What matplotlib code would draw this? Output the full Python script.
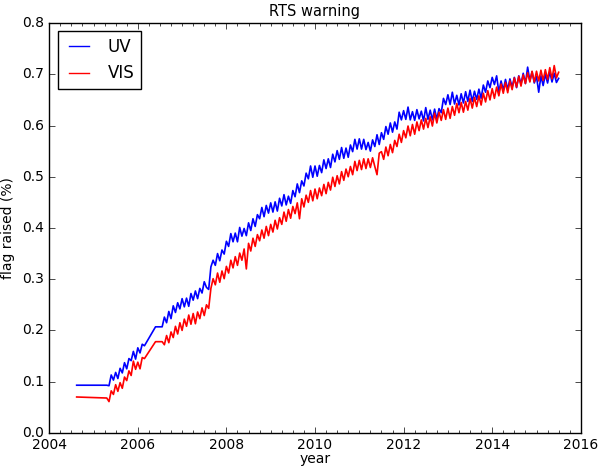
import numpy as np
import matplotlib
matplotlib.use('Agg')
import matplotlib.pyplot as plt
from matplotlib.ticker import MultipleLocator, FormatStrFormatter

# time sampling in decimal years
flat_start = 2004.62
seg1_start = 2005.30
gap_year = 2006.40
seg2_start = 2006.55
step = 0.05

# values
uv_flat = 0.093
vis_flat = 0.070
uv_gap = 0.207
vis_gap = 0.178

# 2005.30 - 2006.15
uv_seg1 = [0.093, 0.092, 0.113, 0.103, 0.118, 0.106, 0.126, 0.117, 0.137, 0.125,
           0.145, 0.141, 0.159, 0.144, 0.166, 0.156, 0.173, 0.170]
vis_seg1 = [0.068, 0.061, 0.082, 0.075, 0.094, 0.081, 0.098, 0.087, 0.109, 0.102,
            0.121, 0.112, 0.140, 0.124, 0.138, 0.125, 0.147, 0.145]

# 2006.55 - 2015.50
uv_seg2 = [
    0.207, 0.226, 0.215, 0.237, 0.223, 0.248, 0.235, 0.254, 0.242,
    # 2007
    0.262, 0.246, 0.263, 0.247, 0.272, 0.259, 0.277, 0.262, 0.282, 0.273,
    0.295, 0.284, 0.280, 0.324, 0.337, 0.327, 0.350, 0.336, 0.357, 0.349,
    # 2008
    0.374, 0.364, 0.389, 0.373, 0.390, 0.373, 0.401, 0.384, 0.399, 0.385,
    0.410, 0.395, 0.418, 0.403, 0.426, 0.418, 0.440, 0.422, 0.444, 0.429,
    # 2009
    0.449, 0.431, 0.451, 0.433, 0.458, 0.443, 0.465, 0.445, 0.462, 0.448,
    0.473, 0.461, 0.486, 0.469, 0.492, 0.482, 0.507, 0.496, 0.521, 0.499,
    # 2010
    0.521, 0.501, 0.522, 0.508, 0.533, 0.516, 0.535, 0.518, 0.544, 0.529,
    0.551, 0.534, 0.557, 0.536, 0.556, 0.538, 0.562, 0.549, 0.573, 0.554,
    # 2011
    0.574, 0.554, 0.573, 0.553, 0.567, 0.550, 0.572, 0.559, 0.582, 0.563,
    0.586, 0.573, 0.598, 0.583, 0.605, 0.587, 0.607, 0.593, 0.626, 0.611,
    # 2012
    0.629, 0.612, 0.636, 0.611, 0.627, 0.610, 0.631, 0.613, 0.628, 0.609,
    0.635, 0.612, 0.630, 0.611, 0.632, 0.612, 0.633, 0.625, 0.653, 0.641,
    # 2013
    0.660, 0.641, 0.665, 0.642, 0.659, 0.640, 0.662, 0.644, 0.666, 0.647,
    0.669, 0.647, 0.667, 0.651, 0.671, 0.653, 0.679, 0.665, 0.687, 0.674,
    # 2014
    0.694, 0.680, 0.697, 0.665, 0.687, 0.669, 0.690, 0.670, 0.691, 0.675,
    0.694, 0.674, 0.697, 0.681, 0.702, 0.682, 0.714, 0.687, 0.705, 0.683,
    # 2015
    0.696, 0.665, 0.697, 0.678, 0.700, 0.683, 0.705, 0.685, 0.702, 0.684, 0.692,
]
vis_seg2 = [
    0.178, 0.172, 0.190, 0.176, 0.197, 0.186, 0.208, 0.193, 0.215,
    # 2007
    0.200, 0.222, 0.208, 0.230, 0.212, 0.233, 0.213, 0.236, 0.223, 0.244,
    0.229, 0.250, 0.243, 0.282, 0.301, 0.289, 0.312, 0.294, 0.316, 0.301,
    # 2008
    0.325, 0.312, 0.337, 0.322, 0.344, 0.327, 0.351, 0.337, 0.359, 0.320,
    0.370, 0.355, 0.380, 0.364, 0.387, 0.375, 0.396, 0.380, 0.403, 0.385,
    # 2009
    0.407, 0.392, 0.415, 0.398, 0.420, 0.407, 0.431, 0.413, 0.436, 0.419,
    0.442, 0.428, 0.449, 0.418, 0.457, 0.441, 0.464, 0.450, 0.473, 0.453,
    # 2010
    0.476, 0.457, 0.478, 0.463, 0.485, 0.467, 0.489, 0.474, 0.499, 0.481,
    0.502, 0.486, 0.510, 0.493, 0.515, 0.500, 0.520, 0.504, 0.530, 0.512,
    # 2011
    0.532, 0.514, 0.535, 0.516, 0.535, 0.518, 0.537, 0.520, 0.504, 0.546,
    0.549, 0.534, 0.558, 0.541, 0.563, 0.547, 0.571, 0.559, 0.583, 0.567,
    # 2012
    0.590, 0.576, 0.599, 0.580, 0.602, 0.583, 0.607, 0.590, 0.611, 0.593,
    0.614, 0.596, 0.617, 0.599, 0.624, 0.605, 0.626, 0.610, 0.631, 0.612,
    # 2013
    0.634, 0.614, 0.637, 0.620, 0.643, 0.625, 0.645, 0.626, 0.647, 0.630,
    0.653, 0.634, 0.655, 0.637, 0.658, 0.640, 0.663, 0.646, 0.668, 0.650,
    # 2014
    0.672, 0.653, 0.675, 0.658, 0.681, 0.663, 0.684, 0.664, 0.687, 0.670,
    0.693, 0.675, 0.696, 0.677, 0.699, 0.682, 0.703, 0.685, 0.706, 0.685,
    # 2015
    0.706, 0.687, 0.708, 0.688, 0.709, 0.690, 0.713, 0.691, 0.717, 0.693, 0.704,
]


def build(flat, seg1, gap, seg2):
    t1 = seg1_start + step * np.arange(len(seg1))
    t2 = seg2_start + step * np.arange(len(seg2))
    t = np.concatenate([[flat_start], t1, [gap_year], t2])
    v = np.concatenate([[flat], seg1, [gap], seg2])
    return t, v


t_uv, y_uv = build(uv_flat, uv_seg1, uv_gap, uv_seg2)
t_vis, y_vis = build(vis_flat, vis_seg1, vis_gap, vis_seg2)

plt.style.use('classic')
plt.rcParams['figure.facecolor'] = 'white'
plt.rcParams['savefig.facecolor'] = 'white'

fig = plt.figure(figsize=(6.0, 4.71), dpi=100)
ax = fig.add_axes([0.082, 0.081, 0.886, 0.870])

ax.plot(t_uv, y_uv, color='b', lw=1.2, label='UV')
ax.plot(t_vis, y_vis, color='r', lw=1.2, label='VIS')

ax.set_xlim(2004, 2016)
ax.set_ylim(0.0, 0.8)
ax.xaxis.set_major_locator(MultipleLocator(2))
ax.xaxis.set_minor_locator(MultipleLocator(0.25))
ax.yaxis.set_major_locator(MultipleLocator(0.1))
ax.yaxis.set_minor_locator(plt.NullLocator())
ax.xaxis.set_major_formatter(FormatStrFormatter('%d'))
ax.yaxis.set_major_formatter(FormatStrFormatter('%.1f'))
ax.tick_params(labelsize=10)

ax.set_title('RTS warning', fontsize=10.5)
ax.set_xlabel('year', fontsize=10, labelpad=0)
ax.set_ylabel('flag raised (%)', fontsize=10)
leg = ax.legend(loc='upper left', fontsize=12, handlelength=1.8, borderaxespad=0.5)
for line in leg.get_lines():
    line.set_linewidth(1.0)

fig.savefig('out.png', dpi=100)
